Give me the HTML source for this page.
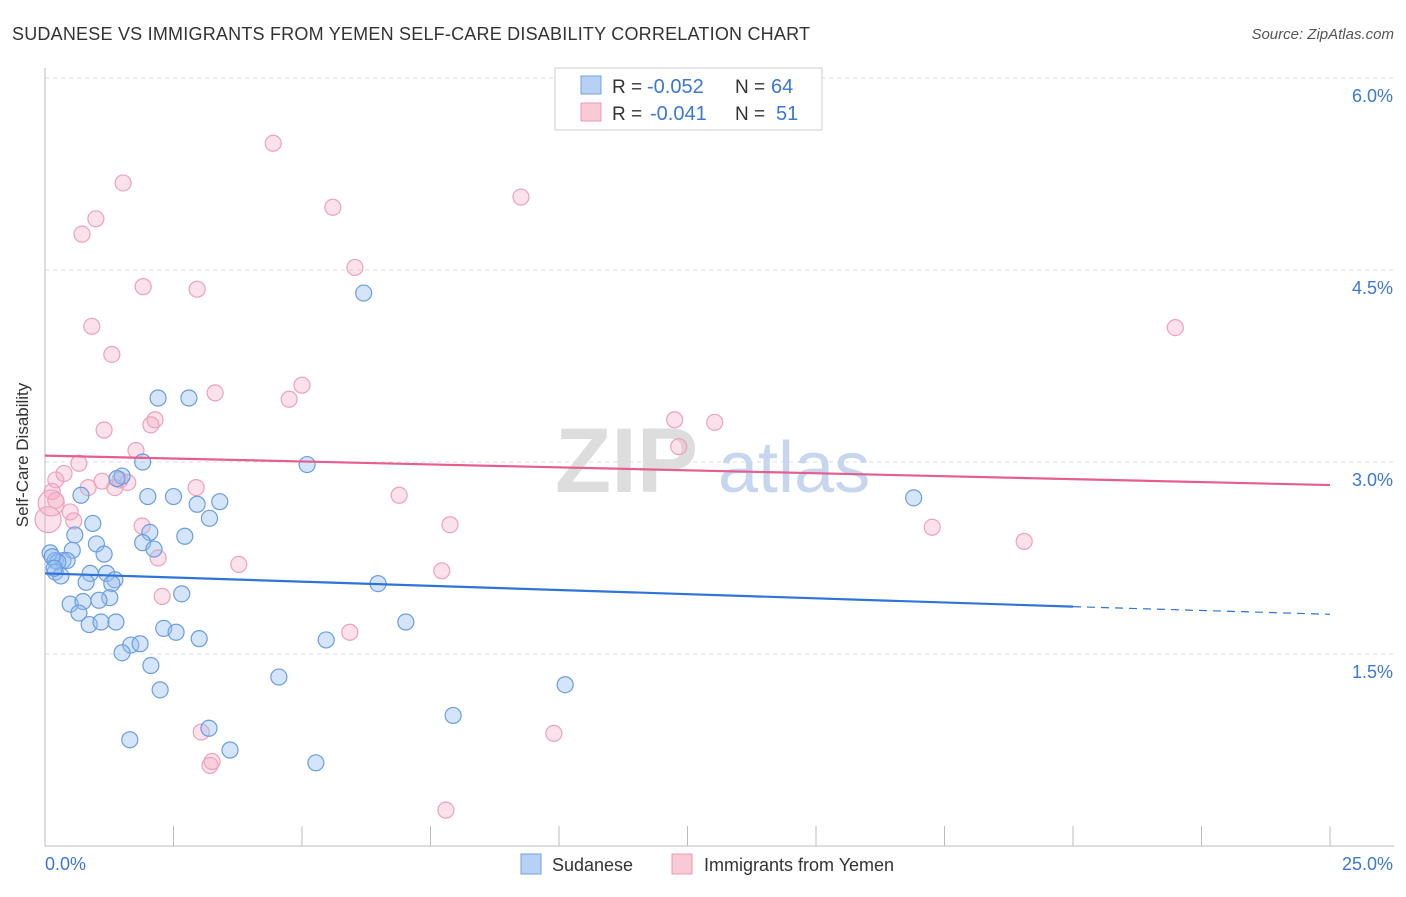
<!DOCTYPE html>
<html><head><meta charset="utf-8"><style>
body{margin:0;background:#fff;font-family:"Liberation Sans",sans-serif}
svg text{font-family:"Liberation Sans",sans-serif}
</style></head><body>
<svg width="1406" height="892" viewBox="0 0 1406 892">
<text x="12" y="40" font-size="18" fill="#333" textLength="798">SUDANESE VS IMMIGRANTS FROM YEMEN SELF-CARE DISABILITY CORRELATION CHART</text>
<text x="1394" y="39" font-size="15" fill="#555" font-style="italic" text-anchor="end">Source: ZipAtlas.com</text>
<g id="grid"></g>
<g><text x="555" y="492" font-size="92" fill="#ddd" font-family="Liberation Serif" font-weight="bold">ZIP</text><text x="718" y="492" font-size="72" fill="#c5d6ee">atlas</text></g>
<g id="axes"></g>
<g id="pts"></g>
<g id="lines"></g>
<text x="28" y="455" font-size="17" fill="#333" text-anchor="middle" transform="rotate(-90 28 455)">Self-Care Disability</text>
<g>
<rect x="555" y="68" width="267" height="62" fill="#fff" stroke="#ccc"/>
<rect x="581" y="76" width="20" height="18" fill="#b7d1f5" stroke="#6fa0e8"/>
<rect x="581" y="103" width="20" height="18" fill="#f9c9d6" stroke="#ec9ab2"/>
<text x="612" y="93" font-size="19" fill="#333">R =</text>
<text x="647" y="93" font-size="20" fill="#3a78d4">-0.052</text>
<text x="735" y="93" font-size="19" fill="#333">N =</text>
<text x="771" y="93" font-size="20" fill="#3a78d4">64</text>
<text x="612" y="120" font-size="19" fill="#333">R =</text>
<text x="650" y="120" font-size="20" fill="#3a78d4">-0.041</text>
<text x="735" y="120" font-size="19" fill="#333">N =</text>
<text x="776" y="120" font-size="20" fill="#3a78d4">51</text>
</g>
<g>
<rect x="521" y="854" width="20" height="20" fill="#b7d1f5" stroke="#6fa0e8"/>
<text x="552" y="871" font-size="18" fill="#333">Sudanese</text>
<rect x="672" y="854" width="20" height="20" fill="#f9c9d6" stroke="#ec9ab2"/>
<text x="704" y="871" font-size="18" fill="#333">Immigrants from Yemen</text>
</g>
</svg>
<script>
const blueX=[6.2,2.2,2.8,5.1,1.9,1.5,1.4,0.7,2.0,2.5,3.4,2.96,3.2,0.93,0.58,2.04,2.72,1.9,1.0,0.53,2.12,1.15,0.1,0.2,0.35,0.43,0.25,0.2,0.31,0.88,1.2,1.36,1.3,0.8,6.48,2.66,1.26,0.49,0.74,1.05,0.66,0.86,1.09,1.38,7.02,2.31,2.55,3.0,5.47,1.67,1.85,1.5,2.06,4.55,10.12,2.24,7.94,3.19,1.65,3.6,5.27,16.9,0.14,0.18];
const blueY=[4.32,3.5,3.5,2.98,3.0,2.89,2.87,2.74,2.73,2.73,2.69,2.67,2.56,2.52,2.43,2.45,2.42,2.37,2.36,2.31,2.32,2.28,2.29,2.23,2.23,2.23,2.22,2.14,2.11,2.13,2.13,2.08,2.05,2.06,2.05,1.97,1.94,1.89,1.91,1.92,1.82,1.73,1.75,1.75,1.75,1.7,1.67,1.62,1.61,1.57,1.58,1.51,1.41,1.32,1.26,1.22,1.02,0.92,0.83,0.75,0.65,2.72,2.26,2.17];
const pinkX=[4.44,1.52,5.6,9.26,0.99,0.72,6.03,1.91,2.96,0.91,1.3,21.99,5.0,3.31,4.75,2.14,2.06,1.15,12.25,13.03,1.77,12.33,0.66,0.37,0.21,0.14,1.46,1.61,1.11,0.84,1.36,2.94,6.89,0.21,0.49,0.56,1.89,7.88,17.26,19.05,2.2,3.77,7.72,2.28,5.93,3.04,9.9,3.21,3.25,7.8,0.06,0.12];
const pinkY=[5.49,5.18,4.99,5.07,4.9,4.78,4.52,4.37,4.35,4.06,3.84,4.05,3.6,3.54,3.49,3.33,3.29,3.25,3.33,3.31,3.09,3.12,2.99,2.91,2.86,2.77,2.86,2.84,2.85,2.8,2.8,2.8,2.74,2.7,2.61,2.54,2.5,2.51,2.49,2.38,2.25,2.2,2.15,1.95,1.67,0.89,0.88,0.63,0.66,0.28,2.55,2.68];
const yTicks=[1.5,3.0,4.5,6.0];
const yLabels=["1.5%","3.0%","4.5%","6.0%"];
const trendBlue=[2.13,1.87,1.81];const trendPink=[3.05,2.82];
const X=v=>45+v*51.4, Y=v=>846-v*128;
const NS="http://www.w3.org/2000/svg";
function mk(p,t,a){const e=document.createElementNS(NS,t);for(const k in a)e.setAttribute(k,a[k]);document.getElementById(p).appendChild(e);return e;}
yTicks.forEach((t,i)=>{
 const g=mk('grid','line',{x1:45,x2:1394,y1:Y(t),y2:Y(t),stroke:'#ddd','stroke-dasharray':'4,4'});
 
 
 const l=mk('axes','text',{x:1393,y:Y(t)+24,'font-size':18,fill:'#3a78d4','text-anchor':'end'});l.textContent=yLabels[i];
 
 
});
const ax=mk('axes','line',{x1:45,x2:1394,y1:846,y2:846,stroke:'#bbb'});


const ay=mk('axes','line',{x1:45,x2:45,y1:68,y2:846,stroke:'#bbb'});


for(let i=1;i<=10;i++){const t=mk('axes','line',{x1:X(i*2.5),x2:X(i*2.5),y1:826,y2:846,stroke:'#bbb'});
 
 }
[['0.0%',45,'start'],['25.0%',1393,'end']].forEach(a=>{const t=mk('axes','text',{x:a[1],y:870,'font-size':18,fill:'#3a78d4','text-anchor':a[2]});t.textContent=a[0];
 
 });
pinkX.forEach((x,i)=>{const c=mk('pts','circle',{cx:X(x),cy:Y(pinkY[i]),r:i>=50?13:8,fill:'rgba(244,170,195,0.35)',stroke:'#eca2bb','stroke-width':1.2});
 
 });
blueX.forEach((x,i)=>{const c=mk('pts','circle',{cx:X(x),cy:Y(blueY[i]),r:8,fill:'rgba(150,190,240,0.4)',stroke:'#6a9de0','stroke-width':1.2});
 
 });
const b1=mk('lines','line',{x1:X(0),y1:Y(trendBlue[0]),x2:X(20),y2:Y(trendBlue[1]),stroke:'#2f74d6','stroke-width':2.2});


const b2=mk('lines','line',{x1:X(20),y1:Y(trendBlue[1]),x2:X(25),y2:Y(trendBlue[2]),stroke:'#2f74d6','stroke-width':1.2,'stroke-dasharray':'8,6'});


const p1=mk('lines','line',{x1:X(0),y1:Y(trendPink[0]),x2:X(25),y2:Y(trendPink[1]),stroke:'#e45f8e','stroke-width':2.2});


</script>
</body></html>
